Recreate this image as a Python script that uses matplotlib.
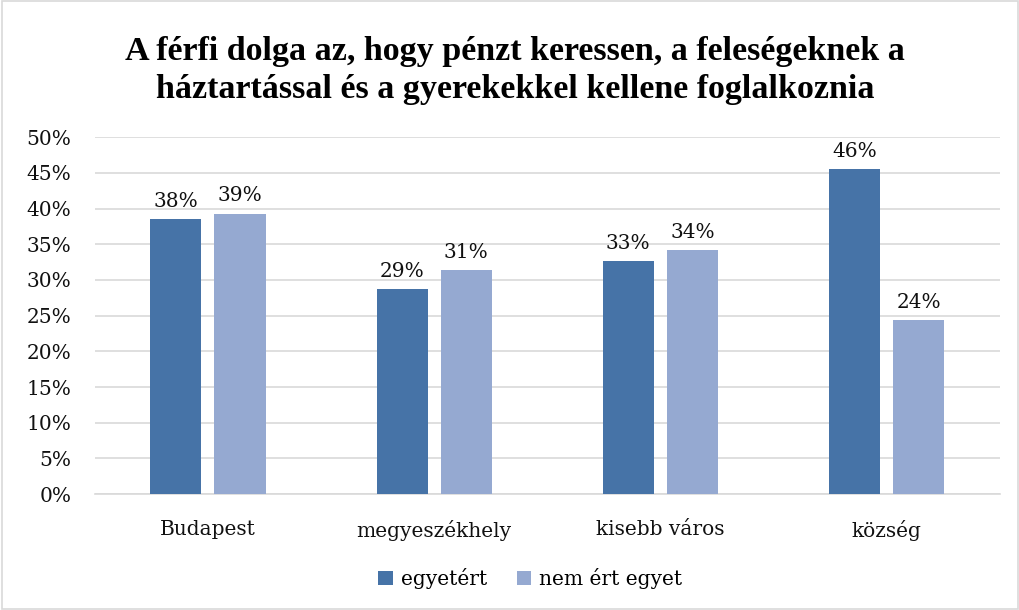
import numpy as np
import matplotlib.pyplot as plt
from matplotlib.patches import Rectangle

# Adatok (leolvasva az abrarol)
kategoriak = ['Budapest', 'megyeszékhely', 'kisebb város', 'község']
egyetert = [38.5, 28.7, 32.6, 45.5]
nem_ert_egyet = [39.3, 31.4, 34.2, 24.4]
feliratok_1 = ['38%', '29%', '33%', '46%']
feliratok_2 = ['39%', '31%', '34%', '24%']
cim = 'A férfi dolga az, hogy pénzt keressen, a feleségeknek a\nháztartással és a gyerekekkel kellene foglalkoznia'

plt.rcParams['font.family'] = ['DejaVu Serif']

fig = plt.figure(figsize=(10.2, 6.1), dpi=100)
ax = fig.add_axes([0.093, 0.19, 0.887, 0.585])

# Keret a diagram korul
fig.patches.append(Rectangle((0.002, 0.002), 0.996, 0.996, transform=fig.transFigure,
                             fill=False, edgecolor='#D9D9D9', linewidth=1.2))

x = np.arange(len(kategoriak))
w = 0.226
off = 0.1416
b1 = ax.bar(x - off, egyetert, w, color='#4673A7', label='egyetért', zorder=3)
b2 = ax.bar(x + off, nem_ert_egyet, w, color='#95A9D1', label='nem ért egyet', zorder=3)

for rect, t in zip(b1, feliratok_1):
    ax.annotate(t, (rect.get_x() + rect.get_width() / 2, rect.get_height()),
                xytext=(0, 6), textcoords='offset points', ha='center', va='bottom',
                fontsize=14.5, color='#111111')
for rect, t in zip(b2, feliratok_2):
    ax.annotate(t, (rect.get_x() + rect.get_width() / 2, rect.get_height()),
                xytext=(0, 6), textcoords='offset points', ha='center', va='bottom',
                fontsize=14.5, color='#111111')

ax.set_xlim(-0.5, 3.5)
ax.set_ylim(0, 50)
ax.set_yticks(np.arange(0, 51, 5))
ax.set_yticklabels([f'{v}%' for v in range(0, 51, 5)], fontsize=14.5, color='#111111')
ax.set_xticks(x)
ax.set_xticklabels(kategoriak, fontsize=14.5, color='#111111')
ax.tick_params(axis='both', length=0)
ax.tick_params(axis='x', pad=19)
ax.tick_params(axis='y', pad=17)
ax.grid(axis='y', color='#D9D9D9', linewidth=1.2, zorder=0)
for s in ['top', 'right', 'left']:
    ax.spines[s].set_visible(False)
ax.spines['bottom'].set_color('#D9D9D9')
ax.spines['bottom'].set_linewidth(1.2)

fig.text(0.505, 0.885, cim, ha='center', va='center', fontsize=24.5, fontweight='bold',
         family='Liberation Serif', linespacing=1.3)

fig.legend(handles=[b1, b2], loc='center', bbox_to_anchor=(0.52, 0.052), ncol=2,
           frameon=False, fontsize=14.5, handlelength=0.7, handleheight=0.7,
           handletextpad=0.4, columnspacing=1.5)

fig.savefig('out.png', dpi=100)
